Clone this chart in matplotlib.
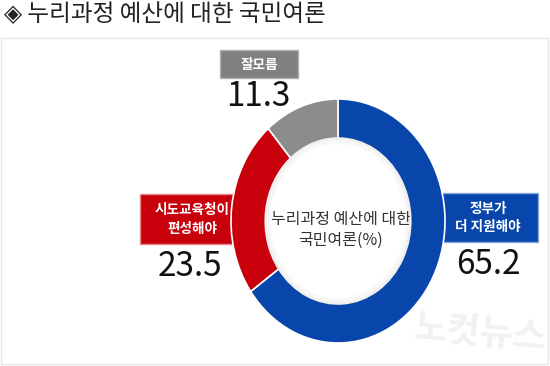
import numpy as np
import matplotlib.pyplot as plt
from matplotlib.patches import Rectangle

plt.rcParams['font.family'] = ['Noto Sans CJK KR', 'DejaVu Sans']

# Données du graphique
categories = ['정부가\n더 지원해야', '시도교육청이\n편성해야', '잘모름']
valeurs = [65.2, 23.5, 11.3]
couleurs = ['#0846ab', '#c8000b', '#8c8c8c']
titre = '◈ 누리과정 예산에 대한 국민여론'
texte_centre = '누리과정 예산에 대한\n국민여론(%)'

W, H = 550, 366
fig = plt.figure(figsize=(W / 100, H / 100), dpi=100)

# calque en pixels pour le cadre, les étiquettes et le titre
fond = fig.add_axes([0, 0, 1, 1])
fond.set_xlim(0, W)
fond.set_ylim(H, 0)
fond.axis('off')

# cadre gris très clair
fond.add_patch(Rectangle((1, 38), 547, 326, fill=False, edgecolor='#e6e6e6', linewidth=1))

# anneau (légèrement elliptique comme l'original)
cx, cy, rx, ry = 338, 221, 107, 122
ax = fig.add_axes([(cx - rx) / W, (H - cy - ry) / H, 2 * rx / W, 2 * ry / H])
wedges, _ = ax.pie(valeurs, colors=couleurs, startangle=90, counterclock=False,
                   radius=1, wedgeprops=dict(width=0.32, edgecolor='white', linewidth=1.2))
ax.set_aspect('auto')
ax.set_xlim(-1, 1)
ax.set_ylim(-1, 1)

# ombre légère au bord intérieur
t = np.linspace(0, 2 * np.pi, 200)
for r, a in [(0.68, 0.10), (0.66, 0.06), (0.64, 0.03)]:
    ax.plot(r * np.cos(t), r * np.sin(t), color='#777777', alpha=a, linewidth=2)

# titre
fond.text(4, 15, titre, fontsize=17, color='#222222', va='center', ha='left')

# texte central
fond.text(341, 230, texte_centre, fontsize=11.5, color='#333333', ha='center', va='center',
          linespacing=1.35)

# boîtes des étiquettes : (x0, y0, x1, y1), couleur du bord, position du nombre
boites = [
    ((438, 193, 538, 242), '#8aa6d8', (488, 264)),
    ((140, 194, 245, 244), '#e8868a', (190, 266)),
    ((220, 50, 298, 78), '#b0b0b0', (258, 97)),
]
for (x0, y0, x1, y1), bord, (nx, ny), lab, val, c in zip(
        [b[0] for b in boites], [b[1] for b in boites], [b[2] for b in boites],
        categories, valeurs, couleurs):
    c_boite = '#808080' if c == '#8c8c8c' else c
    fond.add_patch(Rectangle((x0, y0), x1 - x0, y1 - y0, facecolor=c_boite,
                             edgecolor=bord, linewidth=1))
    fond.text((x0 + x1) / 2, (y0 + y1) / 2 + 0.5, lab, fontsize=9.8, color='white',
              ha='center', va='center', linespacing=1.45, fontweight='bold')
    fond.text(nx, ny, str(val), fontsize=24, color='#111111', ha='center', va='center')

# filigrane
fond.text(480, 333, '노컷뉴스', fontsize=26, color='#f1f1f1', ha='center', va='center',
          fontweight='bold', rotation=-5)

fig.savefig('out.png', dpi=100)
